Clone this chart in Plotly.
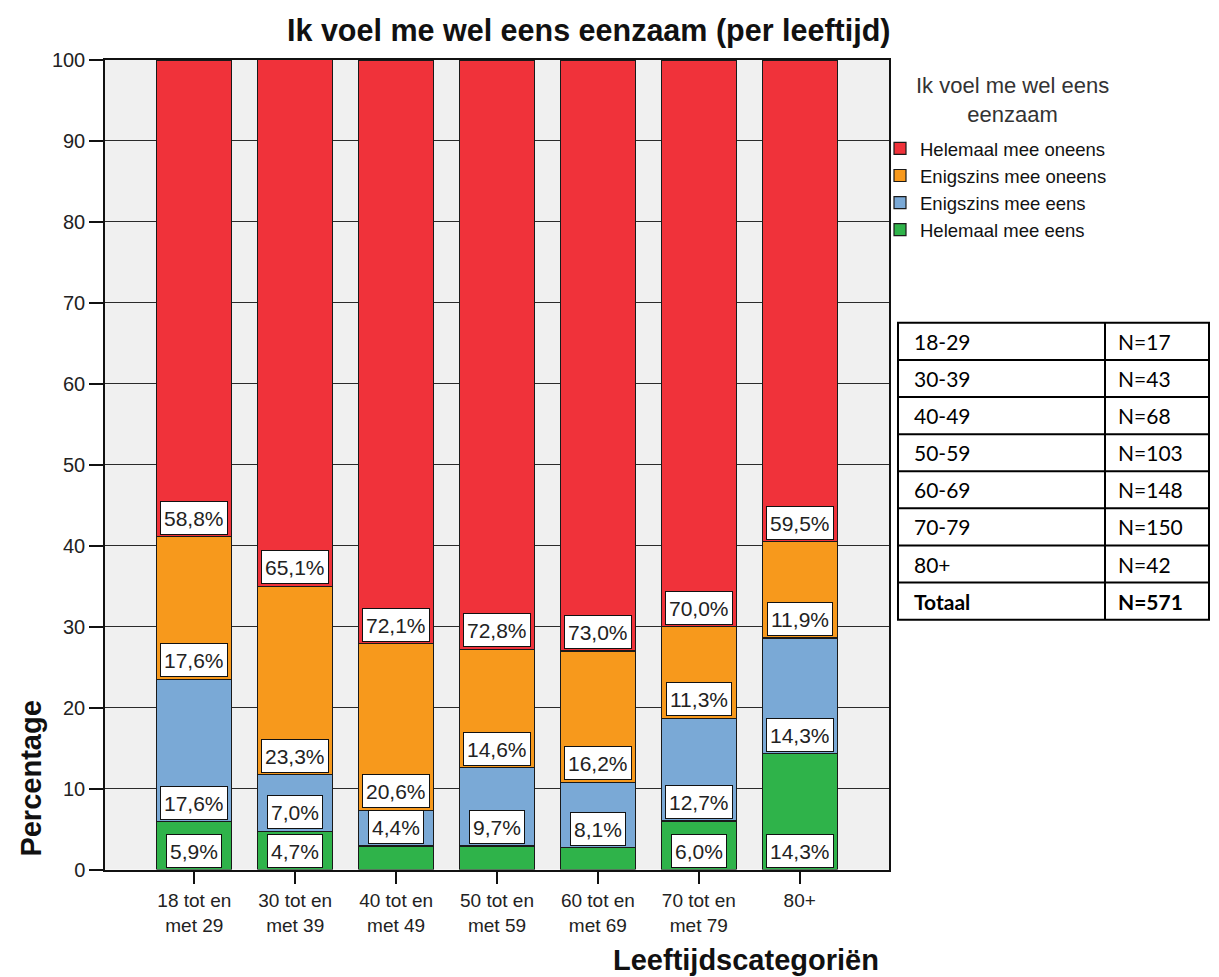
import plotly.graph_objects as go

W, H = 1219, 977

categories = ["18 tot en<br>met 29", "30 tot en<br>met 39", "40 tot en<br>met 49",
              "50 tot en<br>met 59", "60 tot en<br>met 69", "70 tot en<br>met 79", "80+"]

# stacked from bottom to top
series_names = ["Helemaal mee eens", "Enigszins mee eens", "Enigszins mee oneens", "Helemaal mee oneens"]
helemaal_eens = [5.9, 4.7, 2.9, 2.9, 2.7, 6.0, 14.3]
enigszins_eens = [17.6, 7.0, 4.4, 9.7, 8.1, 12.7, 14.3]
enigszins_oneens = [17.6, 23.3, 20.6, 14.6, 16.2, 11.3, 11.9]
helemaal_oneens = [58.8, 65.1, 72.1, 72.8, 73.0, 70.0, 59.5]
series_values = [helemaal_eens, enigszins_eens, enigszins_oneens, helemaal_oneens]
series_colors = ["#2FB34A", "#7AA9D6", "#F7991C", "#F0323A"]

y_ticks = [0, 10, 20, 30, 40, 50, 60, 70, 80, 90, 100]

legend_title_lines = ["Ik voel me wel eens", "eenzaam"]

table_labels = ["18-29", "30-39", "40-49", "50-59", "60-69", "70-79", "80+", "Totaal"]
table_n = [17, 43, 68, 103, 148, 150, 42, 571]

FONT = "Liberation Sans, Arial, sans-serif"
TFONT = "Lato, Carlito, sans-serif"

# page placement correction (target pixel -> paper fraction)
OX, OY, SY = 8, 19, 0.978


def px(x):
    return (x - OX) / W


def py(y):
    return 1 - (y - OY) / SY / H


fig = go.Figure()
for name, vals, col in zip(series_names, series_values, series_colors):
    fig.add_trace(go.Bar(
        x=categories, y=vals, name=name,
        marker=dict(color=col, line=dict(color="#1a1a1a", width=1.2)),
        hoverinfo="skip",
    ))

# value labels (boxed) placed at the bottom of each segment
annotations = []
for j, cat in enumerate(categories):
    base = 0.0
    for vals in series_values:
        v = vals[j]
        if v >= 4:
            annotations.append(dict(
                x=cat, y=base, xref="x", yref="y", xanchor="center", yanchor="bottom", yshift=2,
                text=f"{v:.1f}%".replace(".", ","), showarrow=False,
                font=dict(family=FONT, size=21, color="#222"), height=26,
                bgcolor="white", bordercolor="#111", borderwidth=1, borderpad=3,
            ))
        base += v

# titles
annotations.append(dict(x=px(588), y=py(31), xref="paper", yref="paper", xanchor="center", yanchor="middle",
                        text="<b>Ik voel me wel eens eenzaam (per leeftijd)</b>", showarrow=False,
                        font=dict(family=FONT, size=30.5, color="#111")))
annotations.append(dict(x=px(31), y=py(779), xref="paper", yref="paper", xanchor="center", yanchor="middle",
                        textangle=-90, text="<b>Percentage</b>", showarrow=False,
                        font=dict(family=FONT, size=29, color="#111")))
annotations.append(dict(x=px(746), y=py(960), xref="paper", yref="paper", xanchor="center", yanchor="middle",
                        text="<b>Leeftijdscategoriën</b>", showarrow=False,
                        font=dict(family=FONT, size=29, color="#111")))
# legend title (two centered lines in one text block)
annotations.append(dict(x=px(1012), y=py(100), xref="paper", yref="paper",
                        xanchor="center", yanchor="middle", align="center",
                        text="<br>".join(legend_title_lines), showarrow=False,
                        font=dict(family=FONT, size=22, color="#333")))

# N-table
shapes = []
tx0, tx1, tcol = 898, 1209, 1105
ty0, ty1 = 323, 620
rh = (ty1 - ty0) / len(table_labels)
shapes.append(dict(type="rect", xref="paper", yref="paper", x0=px(tx0), x1=px(tx1),
                   y0=py(ty0), y1=py(ty1), line=dict(color="black", width=2)))
shapes.append(dict(type="line", xref="paper", yref="paper", x0=px(tcol), x1=px(tcol),
                   y0=py(ty0), y1=py(ty1), line=dict(color="black", width=2)))
for i, (lab, n) in enumerate(zip(table_labels, table_n)):
    if i > 0:
        yy = ty0 + i * rh
        shapes.append(dict(type="line", xref="paper", yref="paper", x0=px(tx0), x1=px(tx1),
                           y0=py(yy), y1=py(yy), line=dict(color="black", width=2)))
    yc = ty0 + (i + 0.5) * rh
    bold = lab == "Totaal"
    t1 = f"<b>{lab}</b>" if bold else lab
    t2 = f"<b>N={n}</b>" if bold else f"N={n}"
    annotations.append(dict(x=px(912), y=py(yc), xref="paper", yref="paper", xanchor="left", yanchor="middle",
                            text=t1, showarrow=False, font=dict(family=TFONT, size=21, color="black")))
    annotations.append(dict(x=px(1116), y=py(yc), xref="paper", yref="paper", xanchor="left", yanchor="middle",
                            text=t2, showarrow=False, font=dict(family=TFONT, size=21, color="black")))

fig.update_layout(
    width=W, height=H,
    margin=dict(l=0, r=0, t=0, b=0),
    paper_bgcolor="white",
    plot_bgcolor="#F0F0F0",
    barmode="stack",
    bargap=0.255,
    font=dict(family=FONT, size=20, color="#222"),
    xaxis=dict(domain=[px(105), px(889)], range=[-0.885, 6.885], showgrid=False,
               showline=True, linecolor="#111", linewidth=1.5, mirror=True,
               ticks="outside", ticklen=13, tickcolor="#111", tickwidth=1.5,
               tickfont=dict(family=FONT, size=19, color="#222")),
    yaxis=dict(domain=[py(870), py(60)], range=[0, 100], tickvals=y_ticks,
               showgrid=True, gridcolor="#2a2a2a", gridwidth=1.2,
               showline=True, linecolor="#111", linewidth=1.5, mirror=True,
               ticks="outside", ticklen=14, tickcolor="#111", tickwidth=1.5,
               tickfont=dict(family=FONT, size=20, color="#222"), zeroline=False),
    legend=dict(x=px(880), y=py(130), xanchor="left", yanchor="top",
                traceorder="reversed", bgcolor="rgba(0,0,0,0)",
                font=dict(family=FONT, size=18.5, color="#111")),
    annotations=annotations,
    shapes=shapes,
)

fig.write_html("out.html")
